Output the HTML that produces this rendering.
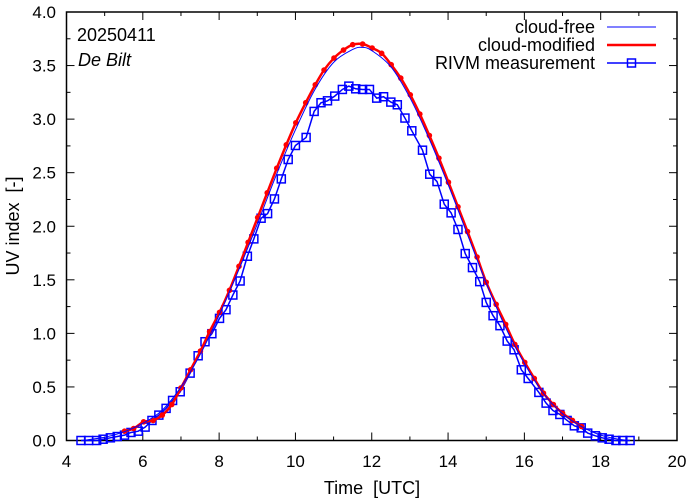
<!DOCTYPE html>
<html><head><meta charset="utf-8">
<style>
html,body{margin:0;padding:0;background:#fff;}
svg{display:block;font-family:"Liberation Sans",Arial,sans-serif;}
.pre{white-space:pre;}
</style></head>
<body>
<svg id="chart" width="694" height="501" viewBox="0 0 694 501" xmlns="http://www.w3.org/2000/svg">
</svg>
<script>
// ---- data ----
const xTicks = [4,6,8,10,12,14,16,18,20];
const yTicks = [0.0,0.5,1.0,1.5,2.0,2.5,3.0,3.5,4.0];
const freeTimes = [4.4,5.0,5.5,6.0,6.5,7.0,7.5,8.0,8.5,9.0,9.5,10.0,10.5,11.0,11.5,11.75,12.0,12.5,13.0,13.5,14.0,14.5,15.0,15.5,16.0,16.5,17.0,17.5,18.0,18.5,18.75];
const freeValues = [0,0.03,0.08,0.16,0.28,0.5,0.8,1.17,1.58,2.02,2.48,2.9,3.27,3.53,3.65,3.67,3.64,3.49,3.2,2.82,2.39,1.93,1.47,1.06,0.72,0.44,0.25,0.13,0.05,0.01,0];
const modTimes = [5.52,5.76,6.02,6.27,6.51,6.76,7.00,7.25,7.51,7.75,8.01,8.27,8.52,8.76,9.01,9.26,9.51,9.76,10.01,10.27,10.52,10.75,11.01,11.26,11.50,11.76,12.01,12.26,12.51,12.76,13.01,13.26,13.51,13.76,14.01,14.26,14.51,14.76,15.00,15.26,15.51,15.75,16.01,16.26,16.50,16.76,17.00,17.26,17.50];
const modValues = [0.087,0.112,0.174,0.187,0.237,0.336,0.491,0.66,0.835,1.016,1.196,1.402,1.626,1.85,2.081,2.312,2.542,2.76,2.966,3.153,3.321,3.458,3.57,3.645,3.695,3.701,3.664,3.614,3.508,3.383,3.227,3.047,2.847,2.636,2.411,2.181,1.95,1.713,1.477,1.271,1.084,0.897,0.729,0.579,0.442,0.336,0.255,0.187,0.131];
const measTimes = [4.38,4.58,4.79,4.96,5.15,5.33,5.52,5.69,5.88,6.06,6.24,6.42,6.61,6.78,6.98,7.24,7.45,7.63,7.81,8.01,8.18,8.36,8.55,8.74,8.91,9.10,9.27,9.45,9.63,9.81,10.00,10.28,10.49,10.67,10.84,11.03,11.23,11.40,11.58,11.76,11.94,12.13,12.31,12.50,12.67,12.87,13.05,13.33,13.52,13.71,13.90,14.08,14.26,14.45,14.64,14.83,15.00,15.18,15.36,15.55,15.73,15.92,16.10,16.38,16.57,16.75,16.93,17.12,17.31,17.49,17.66,17.86,18.04,18.22,18.40,18.58,18.77];
const measValues = [0,0,0,0.012,0.025,0.037,0.05,0.075,0.087,0.125,0.187,0.237,0.30,0.374,0.455,0.629,0.791,0.922,0.997,1.14,1.221,1.358,1.489,1.72,1.882,2.075,2.118,2.255,2.442,2.623,2.754,2.829,3.072,3.153,3.171,3.215,3.277,3.308,3.283,3.277,3.277,3.196,3.209,3.159,3.134,3.01,2.891,2.71,2.486,2.417,2.206,2.125,1.97,1.745,1.614,1.483,1.289,1.165,1.072,0.928,0.847,0.66,0.579,0.449,0.349,0.28,0.243,0.187,0.137,0.118,0.069,0.044,0.025,0.012,0,0,0];

// ---- geometry ----
const L=66.5, R=677, T=12, B=440.5;
const X0=4, X1=20, Y0=0, Y1=4;
const sx = v => L + (v-X0)/(X1-X0)*(R-L);
const sy = v => B - (v-Y0)/(Y1-Y0)*(B-T);
const NS="http://www.w3.org/2000/svg";
const svg=document.getElementById('chart');
function mk(tag,attrs,parent){const e=document.createElementNS(NS,tag);for(const k in attrs)e.setAttribute(k,attrs[k]);(parent||svg).appendChild(e);return e;}

const frame=mk('rect',{x:L,y:T,width:R-L,height:B-T,fill:'none',stroke:'#000','stroke-width':1.5});



const xg=mk('g',{});


for(let v=X0; v<=X1; v+=1){
  const major = xTicks.includes(v);
  const len = major?8:4;
  const x=sx(v);
  mk('line',{x1:x,y1:B,x2:x,y2:B-len,stroke:'#000','stroke-width':1},xg);
  mk('line',{x1:x,y1:T,x2:x,y2:T+len,stroke:'#000','stroke-width':1},xg);
}
xTicks.forEach(v=>{
  const t=mk('text',{x:sx(v),y:467,'text-anchor':'middle','font-size':17,fill:'#000'},xg);
  t.textContent=String(v);
  
  
});
const yg=mk('g',{});


for(let i=0;i<=16;i++){
  const v=i*0.25;
  const major = i%2===0;
  const len = major?8:4;
  const y=sy(v);
  mk('line',{x1:L,y1:y,x2:L+len,y2:y,stroke:'#000','stroke-width':1},yg);
  mk('line',{x1:R,y1:y,x2:R-len,y2:y,stroke:'#000','stroke-width':1},yg);
}
yTicks.forEach(v=>{
  const t=mk('text',{x:56,y:sy(v)+6,'text-anchor':'end','font-size':17,fill:'#000'},yg);
  t.textContent=v.toFixed(1);
  
  
});

const xt=mk('text',{x:372,y:494,'text-anchor':'middle','font-size':18,fill:'#000',class:'pre'});
xt.textContent='Time  [UTC]';


const yt=mk('text',{x:0,y:0,'text-anchor':'middle','font-size':18,fill:'#000',class:'pre',transform:'translate(19,226) rotate(-90)'});
yt.textContent='UV index  [-]';



const d1=mk('text',{x:77,y:41,'font-size':18,fill:'#000'});
d1.textContent='20250411';


const d2=mk('text',{x:78,y:66,'font-size':18,'font-style':'italic',fill:'#000'});
d2.textContent='De Bilt';



function smoothPath(xs,ys){
  const p=xs.map((t,i)=>[sx(t),sy(ys[i])]);
  let d='M'+p[0][0]+','+p[0][1];
  for(let i=0;i<p.length-1;i++){
    const p0=p[Math.max(0,i-1)],p1=p[i],p2=p[i+1],p3=p[Math.min(p.length-1,i+2)];
    const c1=[p1[0]+(p2[0]-p0[0])/6,p1[1]+(p2[1]-p0[1])/6];
    const c2=[p2[0]-(p3[0]-p1[0])/6,p2[1]-(p3[1]-p1[1])/6];
    d+=' C'+c1[0]+','+c1[1]+' '+c2[0]+','+c2[1]+' '+p2[0]+','+p2[1];
  }
  return d;
}
function polyPts(xs,ys){return xs.map((t,i)=>sx(t)+','+sy(ys[i])).join(' ');}

const mg=mk('g',{});


mk('polyline',{points:polyPts(measTimes,measValues),fill:'none',stroke:'#0000ff','stroke-width':1.5},mg);
measTimes.forEach((t,i)=>{
  const r=mk('rect',{x:sx(t)-4,y:sy(measValues[i])-4,width:8,height:8,fill:'none',stroke:'#0000ff','stroke-width':1.5},mg);
  
  
});

const rg=mk('g',{});


mk('path',{d:smoothPath(modTimes,modValues),fill:'none',stroke:'#ff0000','stroke-width':2.5},rg);
modTimes.forEach((t,i)=>{
  const c=mk('circle',{cx:sx(t),cy:sy(modValues[i]),r:2.8,fill:'#ff0000'},rg);
  
  
});

const fp=mk('path',{d:smoothPath(freeTimes,freeValues),fill:'none',stroke:'#0000ff','stroke-width':1});



const lg=mk('g',{});


const entries=[['cloud-free','#0000ff',1,false],['cloud-modified','#ff0000',2.5,false],['RIVM measurement','#0000ff',1.5,true]];
entries.forEach((e,i)=>{
  const y=27+i*18;
  const eg=mk('g',{},lg);
  
  
  const t=mk('text',{x:595,y:y+6,'text-anchor':'end','font-size':18,fill:'#000'},eg);
  t.textContent=e[0];
  mk('line',{x1:607,y1:y,x2:656,y2:y,stroke:e[1],'stroke-width':e[2]},eg);
  if(e[3]) mk('rect',{x:627.5,y:y-4,width:8,height:8,fill:'none',stroke:e[1],'stroke-width':1.5},eg);
});
</script>
</body></html>
